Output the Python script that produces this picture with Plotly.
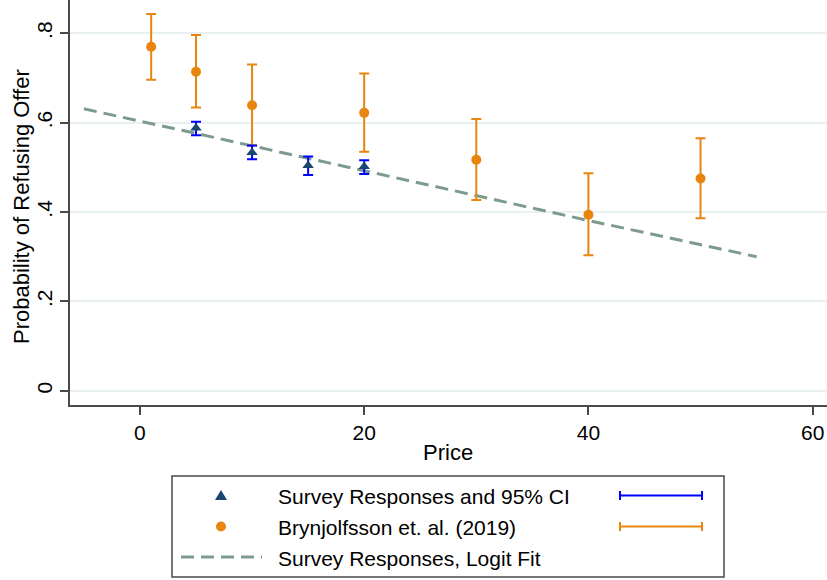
import plotly.graph_objects as go

# ---------------- data ----------------
survey_price = [5, 10, 15, 20]
survey_prob = [0.588, 0.533, 0.504, 0.502]
survey_hi = [0.602, 0.549, 0.524, 0.516]
survey_lo = [0.572, 0.518, 0.483, 0.485]

bryn_price = [1, 5, 10, 20, 30, 40, 50]
bryn_prob = [0.770, 0.714, 0.639, 0.622, 0.517, 0.394, 0.475]
bryn_hi = [0.843, 0.796, 0.730, 0.710, 0.608, 0.487, 0.565]
bryn_lo = [0.696, 0.634, 0.549, 0.535, 0.427, 0.303, 0.386]

fit_price = [-5, 0, 5, 10, 15, 20, 25, 30, 35, 40, 45, 50, 55]
fit_prob = [0.631, 0.604, 0.576, 0.548, 0.520, 0.492, 0.464, 0.436, 0.408, 0.381, 0.354, 0.327, 0.300]

y_tickvals = [0, 0.2, 0.4, 0.6, 0.8]
y_ticktext = ["0", ".2", ".4", ".6", ".8"]
x_tickvals = [0, 20, 40, 60]

x_title = "Price"
y_title = "Probability of Refusing Offer"
legend_labels = ["Survey Responses and 95% CI", "Brynjolfsson et. al. (2019)", "Survey Responses, Logit Fit"]

# ---------------- styles ----------------
ORANGE = "#e8850f"
NAVY = "#1a476f"
BLUE = "#0000ff"
FITC = "#7c9b8e"
AXC = "#4a4a4a"
GRID = "#e8f0f2"
FONT = "Liberation Sans, Arial, sans-serif"

W, H = 827, 580
ML, MR, MT, MB = 70, 0, 0, 175
PW, PH = W - ML - MR, H - MT - MB


def px(xp):
    return (xp - ML) / PW


def py(yp):
    return (H - MB - yp) / PH


fig = go.Figure()

fig.add_trace(go.Scatter(
    x=fit_price, y=fit_prob, mode="lines",
    line=dict(color=FITC, width=3, dash="13px,7px"),
    showlegend=False, hoverinfo="skip"))

fig.add_trace(go.Scatter(
    x=bryn_price, y=bryn_prob, mode="markers",
    marker=dict(symbol="circle", size=10, color=ORANGE),
    error_y=dict(type="data", symmetric=False,
                 array=[h - p for h, p in zip(bryn_hi, bryn_prob)],
                 arrayminus=[p - l for l, p in zip(bryn_lo, bryn_prob)],
                 color=ORANGE, thickness=2, width=5),
    showlegend=False))

fig.add_trace(go.Scatter(
    x=survey_price, y=survey_prob, mode="markers",
    marker=dict(symbol="triangle-up", size=10, color=NAVY),
    error_y=dict(type="data", symmetric=False,
                 array=[h - p for h, p in zip(survey_hi, survey_prob)],
                 arrayminus=[p - l for l, p in zip(survey_lo, survey_prob)],
                 color=BLUE, thickness=2, width=5),
    showlegend=False))

# ---------------- manual legend ----------------
shapes = []
annotations = []
shapes.append(dict(type="rect", xref="paper", yref="paper",
                   x0=px(172), x1=px(724), y0=py(577), y1=py(476),
                   line=dict(color=AXC, width=1.5), fillcolor="white", layer="above"))
rows = [495.5, 526.5, 557]
mx = 221
tri = "M {:.5f} {:.5f} L {:.5f} {:.5f} L {:.5f} {:.5f} Z".format(
    px(mx), py(rows[0] - 5.5), px(mx - 6), py(rows[0] + 4.5), px(mx + 6), py(rows[0] + 4.5))
shapes.append(dict(type="path", xref="paper", yref="paper", path=tri,
                   fillcolor=NAVY, line=dict(width=0), layer="above"))
shapes.append(dict(type="circle", xref="paper", yref="paper",
                   x0=px(mx - 5), x1=px(mx + 5), y0=py(rows[1] + 5), y1=py(rows[1] - 5),
                   fillcolor=ORANGE, line=dict(width=0), layer="above"))
shapes.append(dict(type="line", xref="paper", yref="paper",
                   x0=px(181), x1=px(262), y0=py(rows[2]), y1=py(rows[2]),
                   line=dict(color=FITC, width=3, dash="13px,7px"), layer="above"))
for r, c in [(rows[0], BLUE), (rows[1], ORANGE)]:
    shapes.append(dict(type="line", xref="paper", yref="paper",
                       x0=px(620), x1=px(702), y0=py(r), y1=py(r),
                       line=dict(color=c, width=2), layer="above"))
    for xe in (620, 702):
        shapes.append(dict(type="line", xref="paper", yref="paper",
                           x0=px(xe), x1=px(xe), y0=py(r - 4.5), y1=py(r + 4.5),
                           line=dict(color=c, width=2), layer="above"))
for lab, r in zip(legend_labels, rows):
    annotations.append(dict(text=lab, xref="paper", yref="paper",
                            x=px(276), y=py(r + 1), xanchor="left", yanchor="middle",
                            showarrow=False, font=dict(family=FONT, size=21, color="black")))

# axis titles
annotations.append(dict(text=y_title, xref="paper", yref="paper", textangle=-90,
                        x=px(22), y=py(207), xanchor="center", yanchor="middle",
                        showarrow=False, font=dict(family=FONT, size=22, color="black")))
annotations.append(dict(text=x_title, xref="paper", yref="paper",
                        x=px(448), y=py(452), xanchor="center", yanchor="middle",
                        showarrow=False, font=dict(family=FONT, size=22, color="black")))

fig.update_layout(
    width=W, height=H,
    margin=dict(l=ML, r=MR, t=MT, b=MB),
    paper_bgcolor="white", plot_bgcolor="white",
    font=dict(family=FONT, size=21, color="black"),
    shapes=shapes, annotations=annotations,
    showlegend=False,
    xaxis=dict(range=[-6.24, 61.28], tickvals=x_tickvals,
               showline=True, linecolor=AXC, linewidth=2,
               ticks="outside", ticklen=8, tickwidth=1.5, tickcolor=AXC,
               showgrid=False, zeroline=False),
    yaxis=dict(range=[-0.032, 0.8746], tickvals=y_tickvals, ticktext=y_ticktext,
               tickangle=-90,
               showline=True, linecolor=AXC, linewidth=2,
               ticks="outside", ticklen=8, tickwidth=1.5, tickcolor=AXC,
               showgrid=True, gridcolor=GRID, gridwidth=1.5, zeroline=False),
)

fig.write_html("out.html")
